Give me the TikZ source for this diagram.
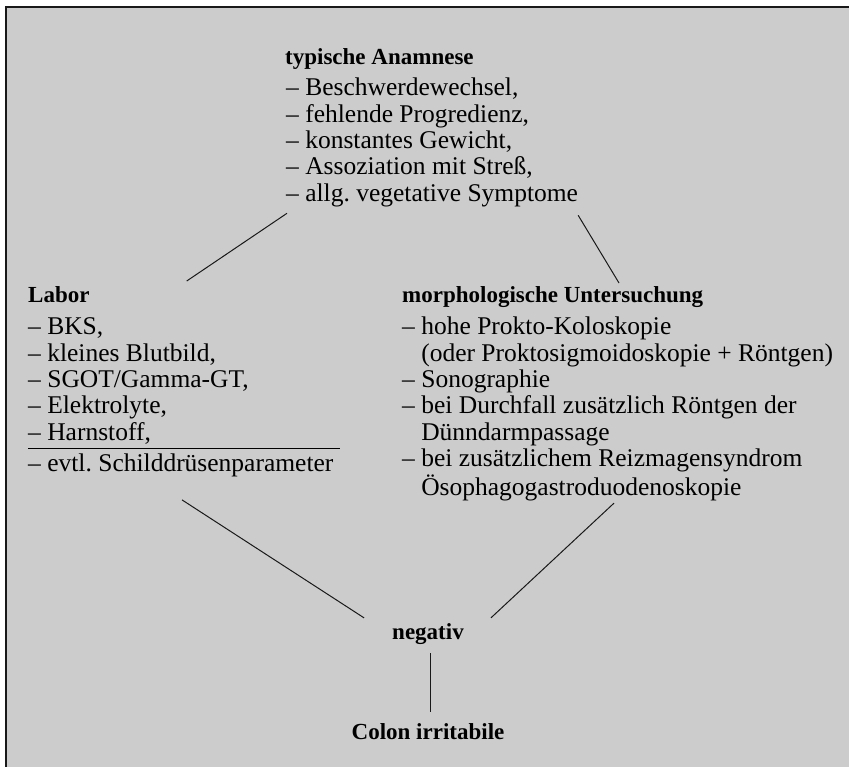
\documentclass[tikz,border=0pt]{standalone}
\usepackage{fontspec}
\setmainfont{Liberation Serif}
\usepackage{tikz}
\usetikzlibrary{calc, positioning}
\usepackage{xcolor}
\definecolor{PanelGray}{gray}{0.80}
\definecolor{RichBlack}{gray}{0.10}
\setlength{\arrayrulewidth}{1.2pt}
\newcommand{\dashlist}[2][]{%
  \begin{tabular}[t]{@{}l@{\ }l@{#1}}#2\end{tabular}%
}
\tikzset{%
  panel/.style={%
    fill=PanelGray,%
  },
  frame_line/.style={%
    draw=RichBlack,%
    line width=1.6pt,%
  },
  heading/.style={%
    inner sep=0pt,%
    anchor=base west,%
    font={\fontsize{23}{26}\selectfont\bfseries},%
  },
  item_list/.style={%
    inner sep=0pt,%
    anchor=base west,%
    align=left,%
    font={\fontsize{25.5}{26.3}\selectfont},%
  },
  result/.style={%
    inner sep=0pt,%
    font={\fontsize{23}{26}\selectfont\bfseries},%
  },
  link/.style={%
    draw=RichBlack,%
    line width=1pt,%
  },
}

\begin{document}
\begin{tikzpicture}[x=1pt, y=-1pt]

    \useasboundingbox (0,0) rectangle (849,767);
    \fill [panel] (6,7) rectangle (849,767);
    \draw [frame_line] (6,767) -- (6,7) -- (849,7);

    \node [heading] (anamnese_title) at (285,65) {typische Anamnese};
    \node [item_list] (anamnese_list) at (286,96) {\dashlist{%
      – & Beschwerdewechsel, \\
      – & fehlende Progredienz, \\
      – & konstantes Gewicht, \\
      – & Assoziation mit Streß, \\
      – & allg.\ vegetative Symptome}};

    \node [heading] (labor_title) at (28,303) {Labor};
    \node [item_list] (labor_list) at (28,335) {\dashlist[\hspace{7pt}]{%
      – & BKS, \\
      – & kleines Blutbild, \\
      – & SGOT/Gamma-GT, \\
      – & Elektrolyte, \\
      – & Harnstoff, \\ \hline
      \rule{0pt}{22.5pt}– & evtl.\ Schilddrüsenparameter}};

    \node [heading] (morph_title) at (402,303) {morphologische Untersuchung};
    \node [item_list] (morph_list) at (402,335) {\dashlist{%
      – & hohe Prokto-Koloskopie \\
        & (oder Proktosigmoidoskopie + Röntgen) \\
      – & Sonographie \\
      – & bei Durchfall zusätzlich Röntgen der \\
        & Dünndarmpassage \\
      – & bei zusätzlichem Reizmagensyndrom \\
        & Ösophagogastroduodenoskopie}};

    \node [result, anchor=base] (negativ) at (428,639) {negativ};
    \node [result, below = 79pt of negativ] (colon) {Colon irritabile};

    % ends of the connectors
    \coordinate (anamnese_left) at ($(anamnese_list.south west)+(1,4)$);
    \coordinate (anamnese_right) at ($(anamnese_list.south east)+(0,6)$);
    \coordinate (labor_top) at ($(labor_title.base east)+(97,-22)$);
    \coordinate (morph_top) at ($(morph_title.base west)+(217,-20)$);
    \coordinate (labor_bottom) at ($(labor_list.south west)+(154,20)$);
    \coordinate (morph_bottom) at ($(morph_list.south west)+(212,0)$);
    \coordinate (negativ_left) at ($(negativ.north west)+(-28,-5)$);
    \coordinate (negativ_right) at ($(negativ.north east)+(27,-5)$);

    \draw [link] (anamnese_left) -- (labor_top);
    \draw [link] (anamnese_right) -- (morph_top);
    \draw [link] (labor_bottom) -- (negativ_left);
    \draw [link] (morph_bottom) -- (negativ_right);
    \draw [link]
      ($(negativ.south)+(2,9)$)
      --
      ($(colon.north)+(2,-11)$);
  \end{tikzpicture}
\end{document}
